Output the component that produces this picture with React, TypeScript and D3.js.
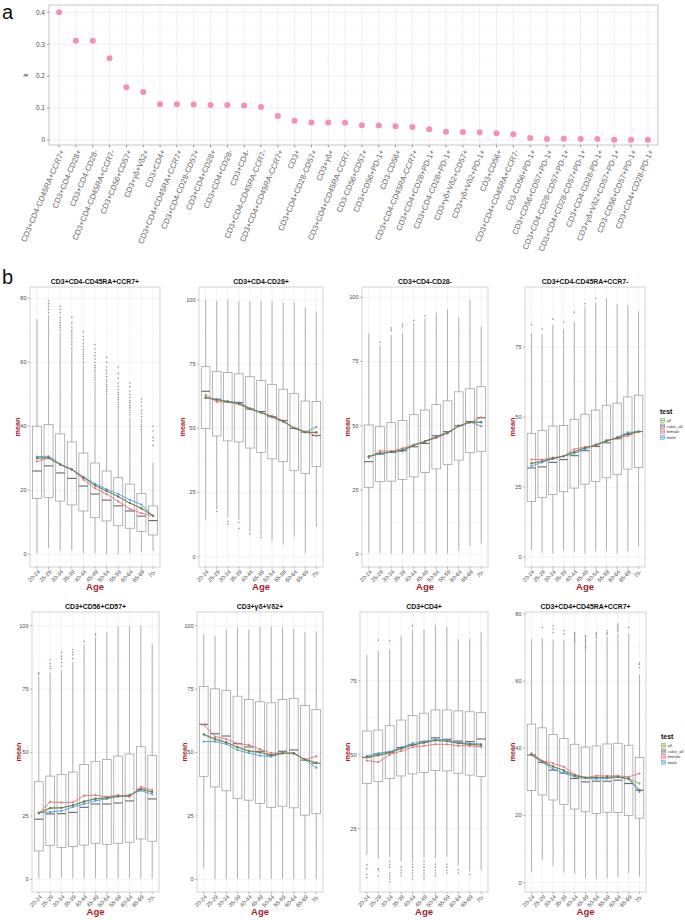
import React from "react";
import * as d3 from "d3";

const FONT = "'Liberation Sans', Arial, Helvetica, sans-serif";

// ================= panel a =================
const markerNames = [
  "CD3+CD4-CD45RA+CCR7+", "CD3+CD4-CD28+", "CD3+CD4-CD28-", "CD3+CD4-CD45RA+CCR7-",
  "CD3+CD56+CD57+", "CD3+γδ+Vδ2+", "CD3+CD4+", "CD3+CD4+CD45RA+CCR7+",
  "CD3+CD4-CD28-CD57+", "CD3+CD4+CD28+", "CD3+CD4+CD28-", "CD3+CD4-",
  "CD3+CD4-CD45RA-CCR7-", "CD3+CD4+CD45RA-CCR7+", "CD3+", "CD3+CD4+CD28-CD57+",
  "CD3+γδ+", "CD3+CD4+CD45RA-CCR7-", "CD3-CD56+CD57+", "CD3+CD56+PD-1+",
  "CD3-CD56+", "CD3+CD4-CD45RA-CCR7+", "CD3+CD4+CD28+PD-1+", "CD3+CD4-CD28+PD-1+",
  "CD3+γδ+Vδ2+CD57+", "CD3+γδ+Vδ2+PD-1+", "CD3+CD56+", "CD3+CD4+CD45RA+CCR7-",
  "CD3-CD56+PD-1+", "CD3+CD56+CD57+PD-1+", "CD3+CD4-CD28-CD57+PD-1+", "CD3+CD4+CD28-CD57+PD-1+",
  "CD3+CD4-CD28-PD-1+", "CD3+γδ+Vδ2+CD57+PD-1+", "CD3-CD56+CD57+PD-1+", "CD3+CD4+CD28-PD-1+",
];
const kValues = [
  0.400, 0.311, 0.311, 0.256, 0.165, 0.150, 0.112, 0.112, 0.111, 0.110, 0.110, 0.108,
  0.103, 0.075, 0.060, 0.055, 0.055, 0.054, 0.046, 0.045, 0.043, 0.041, 0.034, 0.026,
  0.025, 0.024, 0.021, 0.018, 0.006, 0.003, 0.004, 0.003, 0.003, 0.001, 0.001, 0.001,
];
const kTicks = [0, 0.1, 0.2, 0.3, 0.4];
const kTickLabels = ["0", "0.1", "0.2", "0.3", "0.4"];

// ================= panel b =================
const ageGroups = ["20-24", "25-29", "30-34", "35-39", "40-44", "45-49", "50-54", "55-59", "60-64", "65-69", "70-"];
const seriesNames = ["all", "color_all", "female", "male"];
const seriesColors = ["#86B23A", "#6f6f6f", "#E2737C", "#4C9FD8"];

// --- 1
const p1Title = "CD3+CD4-CD45RA+CCR7+";
const p1Ticks = [0, 20, 40, 60, 80];
const p1Q1 = [17.4, 17.7, 16.6, 15.4, 13.5, 11.4, 10.4, 8.9, 8.1, 7.1, 6.0];
const p1Med = [26.0, 27.6, 25.4, 23.7, 21.3, 18.8, 16.9, 15.1, 13.5, 11.9, 10.5];
const p1Q3 = [40.0, 40.5, 37.6, 35.1, 31.6, 28.5, 26.0, 23.9, 21.9, 19.0, 15.1];
const p1Lo = [0.3, 1.9, 1.1, 1.3, 0.3, 0.3, 0.1, 0.1, 0.3, 0.8, 1.0];
const p1Hi = [73.5, 74.7, 69.3, 64.8, 58.8, 54.0, 49.6, 45.8, 42.9, 38.7, 28.5];
const p1Out = [
  [],
  [75.5, 76.5, 77.5, 78.3, 79.2],
  [70, 70.8, 71.5, 72.3, 73.2, 74, 75.5, 76.5, 77.5],
  [65.5, 66.2, 67, 67.8, 68.5, 69.3, 70, 71, 72.2, 74],
  [59.5, 60.2, 61, 61.8, 62.5, 63.2, 64, 65, 66, 67, 68, 69.5],
  [54.5, 55.3, 56, 56.8, 57.5, 58.3, 59, 60, 61, 62, 63, 64.2, 65.5],
  [50, 50.8, 51.5, 52.3, 53, 53.8, 54.5, 55.5, 56.5, 57.5, 58.5, 60, 61.5],
  [46, 46.8, 47.5, 48.3, 49, 49.8, 50.5, 51.5, 52.5, 53.5, 55, 56.5, 58.5],
  [43.5, 44.3, 45, 45.8, 46.5, 47.3, 48, 49, 50, 51, 52.3, 53.5],
  [39, 39.8, 40.5, 41.3, 42, 43, 44, 45, 46.3, 47.5, 48.5],
  [34, 35.5, 36.5, 38.5, 40],
];
const p1All = [30, 30, 28, 26.5, 24, 21.5, 19.7, 18, 16, 14.2, 12];
const p1ColorAll = [30, 30.2, 28, 26.5, 24, 21.5, 19.8, 18, 16, 14.4, 12];
const p1Female = [29, 30, 28, 26.5, 23.3, 20.6, 18.8, 16.5, 14.2, 12.8, 12];
const p1Male = [30.5, 30.6, 28.2, 26.5, 24.2, 22, 20.3, 18.8, 17, 15.5, 12];

// --- 2
const p2Title = "CD3+CD4-CD28+";
const p2Ticks = [0, 25, 50, 75, 100];
const p2Q1 = [49.9, 47.0, 45.1, 44.7, 42.3, 40.6, 38.1, 37.0, 33.5, 32.4, 35.1];
const p2Med = [64.4, 61.3, 60.3, 60.0, 57.5, 56.5, 54.5, 53.0, 50.0, 48.5, 47.2];
const p2Q3 = [74.0, 72.1, 71.7, 71.2, 70.1, 68.6, 67.1, 65.2, 63.6, 60.6, 60.4];
const p2Lo = [14.5, 18.4, 15.2, 14.5, 9.8, 8.3, 6.1, 4.8, 7.8, 1.3, 11.7];
const p2Hi = [100, 99.5, 100, 99.5, 99.5, 99.5, 99.5, 99, 99, 97, 95.5];
const p2Out = [[], [17.6], [13.8, 12.7], [13.3, 11], [9], [7.5], [], [], [], [], []];
const p2All = [62, 61, 60.5, 59.5, 57.7, 56, 54.5, 52.5, 50.2, 48.5, 48.5];
const p2ColorAll = [61.8, 61.2, 60.3, 59.8, 57.5, 56.3, 54.4, 52.7, 50.1, 48.5, 48.3];
const p2Female = [63, 60.3, 60.2, 59.3, 57.5, 56, 54.8, 53, 50, 48.7, 47];
const p2Male = [62, 61.2, 60.5, 60, 57.8, 56.2, 54.3, 52.8, 50, 48.5, 50.5];

// --- 3
const p3Title = "CD3+CD4-CD28-";
const p3Ticks = [0, 25, 50, 75, 100];
const p3Q1 = [26.0, 28.2, 28.4, 29.1, 30.1, 31.8, 33.2, 34.9, 36.6, 39.5, 39.9];
const p3Med = [36.0, 39.0, 39.6, 40.3, 41.8, 43.1, 46.1, 47.7, 50.0, 51.6, 53.1];
const p3Q3 = [50.3, 49.6, 51.2, 52.0, 54.3, 56.1, 58.2, 59.7, 63.2, 64.4, 65.2];
const p3Lo = [0.5, 0.5, 0.2, 0.3, 0.3, 0.3, 0.3, 0.3, 1.3, 3.1, 4.2];
const p3Hi = [86, 81.4, 85.3, 86, 89.9, 91.8, 94, 95.3, 92.2, 99, 88.6];
const p3Out = [[], [82.5], [87, 88], [88.5, 89.5], [91], [92.8], [], [], [], [], []];
const p3All = [38, 39.3, 39.8, 40.7, 42.5, 43.8, 45.5, 47.3, 49.8, 51.3, 51.5];
const p3ColorAll = [38, 39.2, 39.8, 40.5, 42.4, 43.9, 45.6, 47.3, 49.9, 51.4, 51.3];
const p3Female = [37.5, 40.2, 40.1, 41.2, 42.6, 43.9, 45.2, 47, 50, 51.2, 53.3];
const p3Male = [38.2, 39, 39.7, 40, 42.3, 44, 45.8, 47.5, 49.8, 51.5, 49.8];

// --- 4
const p4Title = "CD3+CD4-CD45RA+CCR7-";
const p4Ticks = [0, 25, 50, 75];
const p4Q1 = [19.8, 21.2, 22.3, 23.3, 24.6, 26.0, 27.0, 28.3, 29.4, 31.4, 32.0];
const p4Med = [31.8, 32.2, 33.8, 34.8, 36.2, 38.0, 39.5, 40.8, 42.3, 43.8, 44.8];
const p4Q3 = [44.2, 45.2, 46.8, 47.0, 49.2, 51.0, 52.5, 54.2, 55.0, 57.2, 57.8];
const p4Lo = [2.5, 1.5, 1.2, 2.3, 1.8, 1.2, 2.0, 2.0, 1.2, 2.0, 3.8];
const p4Hi = [80, 79.5, 83, 81.5, 84, 89.5, 91, 92.5, 90.5, 90, 87.8];
const p4Out = [[83], [81.5], [85], [84], [87.5], [90.5], [92.5], [], [], [], []];
const p4All = [33.5, 34.2, 35.3, 36, 37.5, 39, 40, 41.5, 42.5, 44, 44.8];
const p4ColorAll = [33.4, 34.2, 35.2, 36, 37.6, 39, 40, 41.5, 42.5, 44, 44.8];
const p4Female = [34.8, 34.8, 35.5, 36, 38.5, 39.3, 39.5, 41.8, 42.3, 43.3, 44.8];
const p4Male = [32.5, 33.8, 35, 36, 37, 38.5, 40.2, 41.3, 42.8, 44.5, 44.8];

// --- 5
const p5Title = "CD3+CD56+CD57+";
const p5Ticks = [0, 25, 50, 75, 100];
const p5Q1 = [11.2, 13.4, 12.6, 12.9, 13.5, 14.2, 13.8, 14.2, 14.6, 15.9, 15.0];
const p5Med = [23.7, 25.8, 25.9, 26.4, 28.4, 29.7, 29.7, 30.1, 30.9, 35.5, 31.7];
const p5Q3 = [38.5, 40.7, 41.3, 42.3, 45.3, 46.5, 47.3, 48.6, 49.4, 52.3, 48.9];
const p5Lo = [0.4, 0.4, 0.4, 0.4, 0.4, 0.4, 0.4, 0.4, 0.4, 0.4, 0.4];
const p5Hi = [79.9, 81.5, 82.5, 85.7, 92.5, 95.4, 97.6, 99.9, 99.9, 100, 92.8];
const p5Out = [
  [80.8, 81.5], [83, 84, 85, 86.5], [84, 85.5, 87, 88, 89.5], [87, 88.5, 89.5, 90.5],
  [93.8], [96.3, 96.8], [], [], [], [], [],
];
const p5All = [26.2, 28.2, 28.2, 29.2, 30.8, 31.7, 32, 32.8, 33, 35.5, 34.3];
const p5ColorAll = [26, 28, 28.2, 29.2, 30.6, 31.8, 32.2, 32.7, 33, 35.6, 34.5];
const p5Female = [26.2, 30.5, 30.3, 30.3, 33, 33.2, 32.5, 33.2, 32.5, 36.5, 35.2];
const p5Male = [26.3, 26.5, 27, 28.5, 29.7, 31, 31.7, 32.7, 33.3, 35, 33.5];

// --- 6
const p6Title = "CD3+γδ+Vδ2+";
const p6Ticks = [0, 25, 50, 75, 100];
const p6Q1 = [40.6, 36.4, 34.9, 31.8, 31.2, 29.9, 28.3, 28.8, 28.2, 25.3, 25.9];
const p6Med = [61.1, 57.4, 56.5, 53.5, 52.2, 50.5, 49.0, 50.5, 51.0, 47.0, 45.8];
const p6Q3 = [76.0, 75.1, 74.4, 72.2, 70.9, 70.0, 69.6, 70.9, 71.3, 68.5, 66.9];
const p6Lo = [4.3, 0.2, 0.2, 0.2, 0.2, 0.2, 0.2, 0.2, 0.2, 0.2, 0.2];
const p6Hi = [96.7, 96, 98.3, 99.5, 98.5, 99.5, 99.7, 99.5, 98.7, 97.5, 97.7];
const p6Out = [[], [], [], [], [], [], [], [], [], [], []];
const p6All = [57, 55, 54, 52, 50.5, 50, 49.2, 49.6, 49.6, 47.2, 45.8];
const p6ColorAll = [57.2, 55.5, 54, 52.2, 50.7, 50, 49, 49.8, 49.8, 47.2, 46];
const p6Female = [61, 56.3, 55.3, 53.5, 53, 51.3, 49.8, 49.8, 49.5, 47.2, 48.5];
const p6Male = [54.3, 54.3, 53.3, 51, 49.8, 48.8, 48.4, 49.6, 49.8, 47.2, 44];

// --- 7
const p7Title = "CD3+CD4+";
const p7Ticks = [25, 50, 75];
const p7Q1 = [40.3, 40.9, 41.9, 42.8, 43.5, 44.0, 44.6, 44.5, 43.7, 43.1, 42.6];
const p7Med = [49.1, 50.2, 50.8, 52.4, 53.3, 54.4, 55.7, 55.2, 54.6, 54.4, 55.3];
const p7Q3 = [58.0, 58.3, 59.8, 61.7, 63.2, 64.0, 65.1, 65.1, 64.8, 64.5, 64.2];
const p7Lo = [16.1, 15.0, 15.5, 13.9, 14.4, 15.0, 15.0, 15.5, 12.7, 10.5, 11.0];
const p7Hi = [83.7, 85.0, 85.6, 90.2, 92.3, 92.3, 93.8, 93.2, 89.0, 89.1, 91.4];
const p7Out = [
  [12.8, 11.5, 9.5, 8.5],
  [88.7, 11.5, 11, 9],
  [88.5, 14, 13, 12, 10, 9, 8, 7],
  [12, 11, 10, 9],
  [93.5, 14, 13, 12, 11, 10, 9, 8],
  [14, 13, 12, 11, 10, 9, 8],
  [13, 12, 11, 10, 9],
  [13, 12, 11, 10],
  [11, 10],
  [9.5],
  [],
];
const p7All = [49, 49.7, 50.6, 52, 53.2, 54, 54.8, 54.5, 53.8, 53.5, 53.2];
const p7ColorAll = [49.2, 49.8, 50.7, 52.1, 53.3, 54.1, 54.8, 54.6, 53.9, 53.5, 53.2];
const p7Female = [48, 47.5, 50, 51.2, 52.5, 53, 53.5, 53.5, 53, 53, 52.5];
const p7Male = [49.5, 50.5, 51, 52.5, 53.8, 54.5, 55.2, 55, 54.2, 53.8, 53.6];

// --- 8
const p8Title = "CD3+CD4+CD45RA+CCR7+";
const p8Ticks = [0, 20, 40, 60, 80];
const p8Q1 = [27.4, 26.1, 24.6, 23.3, 21.9, 21.1, 20.6, 20.9, 20.9, 20.0, 19.2];
const p8Med = [38.0, 35.8, 33.5, 32.6, 31.0, 30.0, 30.2, 30.2, 30.5, 29.5, 27.5];
const p8Q3 = [47.2, 46.1, 44.1, 42.9, 41.2, 40.4, 40.7, 41.3, 41.5, 40.9, 37.3];
const p8Lo = [3.3, 6.7, 5.0, 3.0, 2.6, 1.3, 1.0, 1.3, 1.6, 2.8, 1.8];
const p8Hi = [72.5, 72.8, 72.3, 72.3, 71.3, 68.5, 72.5, 73.3, 74.2, 74.2, 62];
const p8Out = [
  [], [76], [74.5, 75.5, 76.5], [74, 75],
  [71.5, 72, 72.5, 73, 73.5, 74, 74.5],
  [69, 69.5, 70, 70.5, 71, 71.5, 72, 72.5, 73, 73.5],
  [73, 73.5, 74, 74.5], [74, 74.5, 75], [75, 75.5, 76, 76.5, 77], [76], [64, 65, 65.5],
];
const p8All = [38.2, 36, 34.5, 33.3, 31.8, 31.2, 31.3, 31.3, 31.5, 31, 29.5];
const p8ColorAll = [38.2, 36, 34.6, 33.4, 31.9, 31.3, 31.3, 31.4, 31.5, 31, 27.6];
const p8Female = [38.5, 36.3, 35.5, 34.5, 32.2, 31.3, 31.8, 31.8, 31.8, 31.5, 32.5];
const p8Male = [38, 35.8, 33.8, 32.6, 31.5, 31, 30.9, 31, 31.4, 30.8, 27];

const panelsData = [
  { title: p1Title, ticks: p1Ticks, q1: p1Q1, med: p1Med, q3: p1Q3, lo: p1Lo, hi: p1Hi, out: p1Out, series: [p1All, p1ColorAll, p1Female, p1Male] },
  { title: p2Title, ticks: p2Ticks, q1: p2Q1, med: p2Med, q3: p2Q3, lo: p2Lo, hi: p2Hi, out: p2Out, series: [p2All, p2ColorAll, p2Female, p2Male] },
  { title: p3Title, ticks: p3Ticks, q1: p3Q1, med: p3Med, q3: p3Q3, lo: p3Lo, hi: p3Hi, out: p3Out, series: [p3All, p3ColorAll, p3Female, p3Male] },
  { title: p4Title, ticks: p4Ticks, q1: p4Q1, med: p4Med, q3: p4Q3, lo: p4Lo, hi: p4Hi, out: p4Out, series: [p4All, p4ColorAll, p4Female, p4Male] },
  { title: p5Title, ticks: p5Ticks, q1: p5Q1, med: p5Med, q3: p5Q3, lo: p5Lo, hi: p5Hi, out: p5Out, series: [p5All, p5ColorAll, p5Female, p5Male] },
  { title: p6Title, ticks: p6Ticks, q1: p6Q1, med: p6Med, q3: p6Q3, lo: p6Lo, hi: p6Hi, out: p6Out, series: [p6All, p6ColorAll, p6Female, p6Male] },
  { title: p7Title, ticks: p7Ticks, q1: p7Q1, med: p7Med, q3: p7Q3, lo: p7Lo, hi: p7Hi, out: p7Out, series: [p7All, p7ColorAll, p7Female, p7Male] },
  { title: p8Title, ticks: p8Ticks, q1: p8Q1, med: p8Med, q3: p8Q3, lo: p8Lo, hi: p8Hi, out: p8Out, series: [p8All, p8ColorAll, p8Female, p8Male] },
];

// layout (positions, not data)
const panelLayouts = [
  { x0: 30, x1: 160, y0: 287, y1: 567, dom: [-4, 83.5], yTitleX: 17, legend: false },
  { x0: 199, x1: 323, y0: 287, y1: 567, dom: [-4, 105], yTitleX: 182, legend: false },
  { x0: 362, x1: 488, y0: 287, y1: 567, dom: [-5, 104], yTitleX: 347, legend: false },
  { x0: 525, x1: 645, y0: 287, y1: 567, dom: [-3.6, 96.5], yTitleX: 512, legend: true },
  { x0: 32, x1: 159, y0: 612, y1: 892, dom: [-5, 105.4], yTitleX: 18, legend: false },
  { x0: 197, x1: 323, y0: 612, y1: 892, dom: [-5, 105.4], yTitleX: 184, legend: false },
  { x0: 360, x1: 488, y0: 612, y1: 892, dom: [3.6, 98.2], yTitleX: 347, legend: false },
  { x0: 525, x1: 646, y0: 612, y1: 892, dom: [-2.8, 80.6], yTitleX: 512, legend: true },
];

const DARKRED = "#A51E32";
const GRID = "#ebebeb";
const GRID_MINOR = "#f4f4f4";
const BORDER = "#cfcfcf";
const AXISTXT = "#4d4d4d";

function PanelA() {
  const x0 = 49, x1 = 658, y0 = 5, y1 = 145;
  const x = d3.scalePoint<string>().domain(markerNames).range([x0, x1]).padding(0.6);
  const y = d3.scaleLinear().domain([-0.0157, 0.4229]).range([y1, y0]);
  const minor = [0.05, 0.15, 0.25, 0.35];
  return (
    <g>
      <text x={2} y={19} fontSize={20} fontFamily={FONT} fill="#111">a</text>
      {minor.map((m) => (
        <line key={"mn" + m} x1={x0} x2={x1} y1={y(m)} y2={y(m)} stroke={GRID_MINOR} strokeWidth={0.5} />
      ))}
      {kTicks.map((t) => (
        <line key={"mj" + t} x1={x0} x2={x1} y1={y(t)} y2={y(t)} stroke={GRID} strokeWidth={0.8} />
      ))}
      {markerNames.map((m) => (
        <line key={"v" + m} x1={x(m)} x2={x(m)} y1={y0} y2={y1} stroke={GRID} strokeWidth={0.8} />
      ))}
      <rect x={x0} y={y0} width={x1 - x0} height={y1 - y0} fill="none" stroke="#b8b8b8" strokeWidth={0.8} />
      {kTicks.map((t, i) => (
        <g key={"yt" + t}>
          <line x1={x0 - 2} x2={x0} y1={y(t)} y2={y(t)} stroke="#555" strokeWidth={0.6} />
          <text x={x0 - 4} y={y(t)} dy="0.35em" textAnchor="end" fontSize={6.5} fontFamily={FONT} fill={AXISTXT}>
            {kTickLabels[i]}
          </text>
        </g>
      ))}
      <text transform={`translate(28,${(y0 + y1) / 2}) rotate(-90)`} textAnchor="middle" fontSize={6.5} fontFamily={FONT} fill="#222">k</text>
      {markerNames.map((m) => (
        <g key={"xt" + m}>
          <line x1={x(m)} x2={x(m)} y1={y1} y2={y1 + 2.5} stroke="#555" strokeWidth={0.6} />
          <text
            transform={`translate(${(x(m) as number) + 3},${y1 + 5}) rotate(-67)`}
            textAnchor="end"
            dy="0.35em"
            fontSize={7.8}
            fontFamily={FONT}
            fill="#666"
          >
            {m}
          </text>
        </g>
      ))}
      {markerNames.map((m, i) => (
        <circle key={"pt" + m} cx={x(m)} cy={y(kValues[i])} r={3} fill="#F292AE" />
      ))}
    </g>
  );
}

function BoxPanel({ d, L }: { d: any; L: any }) {
  const x = d3.scalePoint<string>().domain(ageGroups).range([L.x0, L.x1]).padding(0.6);
  const y = d3.scaleLinear().domain(L.dom).range([L.y1, L.y0]);
  const step = x.step();
  const bw = step * 0.78;
  const ticks: number[] = d.ticks;
  const tstep = ticks[1] - ticks[0];
  const minors: number[] = [];
  for (let i = -1; i < ticks.length; i++) {
    const m = ticks[0] + tstep * (i + 0.5);
    if (m > L.dom[0] && m < L.dom[1]) minors.push(m);
  }
  const line = d3
    .line<number>()
    .x((_, i) => x(ageGroups[i]) as number)
    .y((v) => y(v));
  const cx = (L.x0 + L.x1) / 2;
  const cy = (L.y0 + L.y1) / 2;
  const order = [3, 2, 0, 1];
  return (
    <g>
      {minors.map((m) => (
        <line key={"mn" + m} x1={L.x0} x2={L.x1} y1={y(m)} y2={y(m)} stroke={GRID_MINOR} strokeWidth={0.4} />
      ))}
      {ticks.map((t) => (
        <line key={"mj" + t} x1={L.x0} x2={L.x1} y1={y(t)} y2={y(t)} stroke={GRID} strokeWidth={0.6} />
      ))}
      {ageGroups.map((a) => (
        <line key={"vg" + a} x1={x(a)} x2={x(a)} y1={L.y0} y2={L.y1} stroke={GRID} strokeWidth={0.6} />
      ))}
      {ageGroups.map((a, i) => {
        const px = x(a) as number;
        return (
          <g key={"bx" + a}>
            <line x1={px} x2={px} y1={y(d.hi[i])} y2={y(d.q3[i])} stroke="#a9a9a9" strokeWidth={0.9} />
            <line x1={px} x2={px} y1={y(d.q1[i])} y2={y(d.lo[i])} stroke="#a9a9a9" strokeWidth={0.9} />
            <rect
              x={px - bw / 2}
              y={y(d.q3[i])}
              width={bw}
              height={y(d.q1[i]) - y(d.q3[i])}
              fill="none"
              stroke="#a3a3a3"
              strokeWidth={0.8}
            />
            <line x1={px - bw / 2} x2={px + bw / 2} y1={y(d.med[i])} y2={y(d.med[i])} stroke="#666" strokeWidth={1.1} />
            {d.out[i].map((o: number, j: number) => (
              <circle key={j} cx={px} cy={y(o)} r={0.8} fill="#555" fillOpacity={0.6} />
            ))}
          </g>
        );
      })}
      {order.map((s) => (
        <g key={"s" + s}>
          <path d={line(d.series[s]) as string} fill="none" stroke={seriesColors[s]} strokeWidth={s === 1 ? 0.8 : 0.9} />
          {d.series[s].map((v: number, i: number) => (
            <circle key={i} cx={x(ageGroups[i])} cy={y(v)} r={1.1} fill={seriesColors[s]} />
          ))}
        </g>
      ))}
      <rect x={L.x0} y={L.y0} width={L.x1 - L.x0} height={L.y1 - L.y0} fill="none" stroke={BORDER} strokeWidth={0.9} />
      {ticks.map((t) => (
        <g key={"yt" + t}>
          <line x1={L.x0 - 2} x2={L.x0} y1={y(t)} y2={y(t)} stroke="#777" strokeWidth={0.5} />
          <text x={L.x0 - 3.5} y={y(t)} dy="0.35em" textAnchor="end" fontSize={5.6} fontFamily={FONT} fill={AXISTXT}>
            {t}
          </text>
        </g>
      ))}
      {ageGroups.map((a) => (
        <g key={"xt" + a}>
          <line x1={x(a)} x2={x(a)} y1={L.y1} y2={L.y1 + 2} stroke="#777" strokeWidth={0.5} />
          <text
            transform={`translate(${(x(a) as number) + 2},${L.y1 + 4}) rotate(-45)`}
            textAnchor="end"
            dy="0.35em"
            fontSize={5.6}
            fontFamily={FONT}
            fill={AXISTXT}
          >
            {a}
          </text>
        </g>
      ))}
      <text x={cx} y={L.y0 - 3} textAnchor="middle" fontSize={6.9} fontWeight="bold" fontFamily={FONT} fill="#111">
        {d.title}
      </text>
      <text x={cx} y={L.y1 + 23} textAnchor="middle" fontSize={9.5} fontWeight="bold" fontFamily={FONT} fill={DARKRED}>
        Age
      </text>
      <text
        transform={`translate(${L.yTitleX},${cy}) rotate(-90)`}
        textAnchor="middle"
        dy="0.35em"
        fontSize={7.2}
        fontWeight="bold"
        fontFamily={FONT}
        fill={DARKRED}
      >
        mean
      </text>
      {L.legend && (
        <g>
          <text x={L.x1 + 15} y={cy - 13} fontSize={7} fontWeight="bold" fontFamily={FONT} fill="#111">
            test
          </text>
          {seriesNames.map((n, i) => {
            const ky = cy - 6.5 + i * 5.6;
            return (
              <g key={n}>
                <rect x={L.x1 + 15.5} y={ky - 2.1} width={4.2} height={4.2} fill={seriesColors[i]} fillOpacity={0.25} stroke={seriesColors[i]} strokeWidth={0.5} />
                <line x1={L.x1 + 15.5} x2={L.x1 + 19.7} y1={ky} y2={ky} stroke={seriesColors[i]} strokeWidth={0.7} />
                <text x={L.x1 + 21.5} y={ky} dy="0.35em" fontSize={4.3} fontFamily={FONT} fill="#333">
                  {n}
                </text>
              </g>
            );
          })}
        </g>
      )}
    </g>
  );
}

export default function App() {
  return (
    <svg
      width={685}
      height={920}
      viewBox="0 0 685 920"
      style={{ position: "absolute", left: 0, top: 0, background: "#fff" }}
    >
      <rect x={0} y={0} width={685} height={920} fill="#fff" />
      <PanelA />
      <text x={2} y={284} fontSize={20} fontFamily={FONT} fill="#111">b</text>
      {panelsData.map((d, i) => (
        <BoxPanel key={i} d={d} L={panelLayouts[i]} />
      ))}
    </svg>
  );
}
